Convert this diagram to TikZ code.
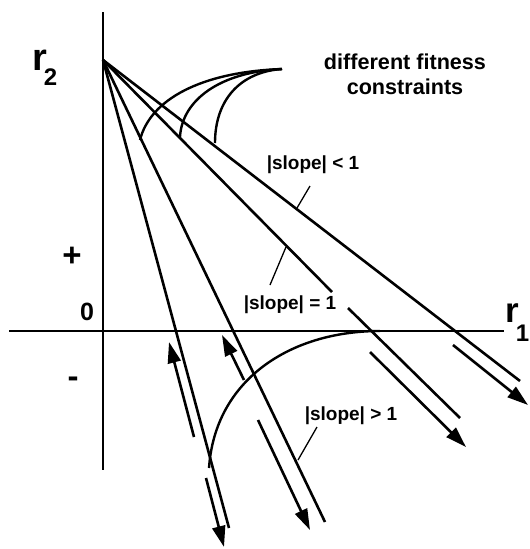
\documentclass[tikz,border=0pt]{standalone}
\usepackage{fontspec}
\setmainfont{Liberation Sans}
\usetikzlibrary{arrows.meta}
\tikzset{
    axis/.style={line width=2.8pt}, % the two axes
    ray/.style={line width=2.6pt}, % lines out of the start point
    flow/.style={line width=2.6pt, -{Triangle[length=21pt,width=13pt]}}, % direction arrows
    bound/.style={line width=2.4pt}, % fitness constraint curves
    leader/.style={line width=1.3pt}, % label pointers
    lbl/.style={font=\bfseries\fontsize{19}{22}\selectfont, inner sep=0pt},
    sign/.style={font=\bfseries\fontsize{33}{33}\selectfont, inner sep=0pt},
}

\begin{document}
\begin{tikzpicture}[x=1pt, y=-1pt]
    \useasboundingbox (0,0) rectangle (530,549);

    % axes
    \coordinate (ytop) at (103,12);
    \coordinate (ybot) at (103,470);
    \coordinate (xl) at (9,331);
    \coordinate (xr) at (504,331);
    \draw[axis] (ytop) -- (ybot);
    \draw[axis] (xl) -- (xr);

    % rays
    \coordinate (o) at (103,60);
    \coordinate (e1) at (520,381);
    \coordinate (g2a) at (332,292);
    \coordinate (g2b) at (348,308);
    \coordinate (e2) at (460,418);
    \coordinate (e3) at (325,522);
    \coordinate (e4) at (229,528);
    \path[ray]
        (o) edge (e1)
        (o) edge (g2a)
        (g2b) edge (e2)
        (o) edge (e3)
        (o) edge (e4);

    % arrows beside the rays
    \coordinate (f1a) at (453,345);  \coordinate (f1b) at (528,405);
    \coordinate (f2a) at (370,352);  \coordinate (f2b) at (466,447);
    \coordinate (f3a) at (258,420);  \coordinate (f3b) at (310,530);
    \coordinate (u3a) at (244,380);  \coordinate (u3b) at (222,335);
    \coordinate (f4a) at (206,478);  \coordinate (f4b) at (224,547);
    \coordinate (u4a) at (194,437);  \coordinate (u4b) at (169,342);
    \draw[flow] (f1a) -- (f1b);
    \draw[flow] (f2a) -- (f2b);
    \draw[flow] (f3a) -- (f3b);
    \draw[flow] (u3a) -- (u3b);
    \draw[flow] (f4a) -- (f4b);
    \draw[flow] (u4a) -- (u4b);

    % constraint curves
    \coordinate (cusp) at (282,69);
    \coordinate (c1) at (140,140);
    \coordinate (c2) at (180,137);
    \coordinate (c3) at (215,143);
    \coordinate (lowa) at (209,468);
    \coordinate (lowb) at (380,331);
    \draw[bound] (c1) .. controls (150,100) and (200,72) .. (cusp);
    \draw[bound] (c2) .. controls (182,100) and (220,72) .. (cusp);
    \draw[bound] (c3) .. controls (215,100) and (240,72) .. (cusp);
    \draw[bound] (lowa) .. controls (215,380) and (290,331) .. (lowb);

    % labels
    \node[inner sep=0pt, anchor=base west, font=\bfseries\fontsize{38}{38}\selectfont]
        (rtwo) at (32,70) {r\kern-3pt\raisebox{-15pt}{\fontsize{24}{24}\selectfont 2}};
    \node[inner sep=0pt, anchor=base west, font=\bfseries\fontsize{35}{35}\selectfont]
        (rone) at (505,322) {r\kern-3pt\raisebox{-19pt}{\fontsize{24}{24}\selectfont 1}};
    \node[sign] (plus) at (72,257) {+};
    \node[sign, font=\bfseries\fontsize{25}{25}\selectfont] (zero) at (87,312) {0};
    \node[sign] (minus) at (73,382) {-};
    \node[inner sep=0pt, align=center, font=\bfseries\fontsize{21.6}{25}\selectfont]
        (fit) at (405,74.5) {different fitness\\constraints};
    \node[lbl] (lt) at (313,165) {|slope| \textless{} 1};
    \node[lbl] (leq) at (290,305) {|slope| = 1};
    \node[lbl] (lgt) at (351,416) {|slope| \textgreater{} 1};

    % pointers from the labels
    \coordinate (slt) at (310,186);  \coordinate (plt) at (297,208);
    \coordinate (seq) at (270,285);  \coordinate (peq) at (286,247);
    \coordinate (sgt) at (317,427);  \coordinate (pgt) at (298,460);
    \draw[leader] (slt) -- (plt);
    \draw[leader] (seq) -- (peq);
    \draw[leader] (sgt) -- (pgt);
\end{tikzpicture}
\end{document}
